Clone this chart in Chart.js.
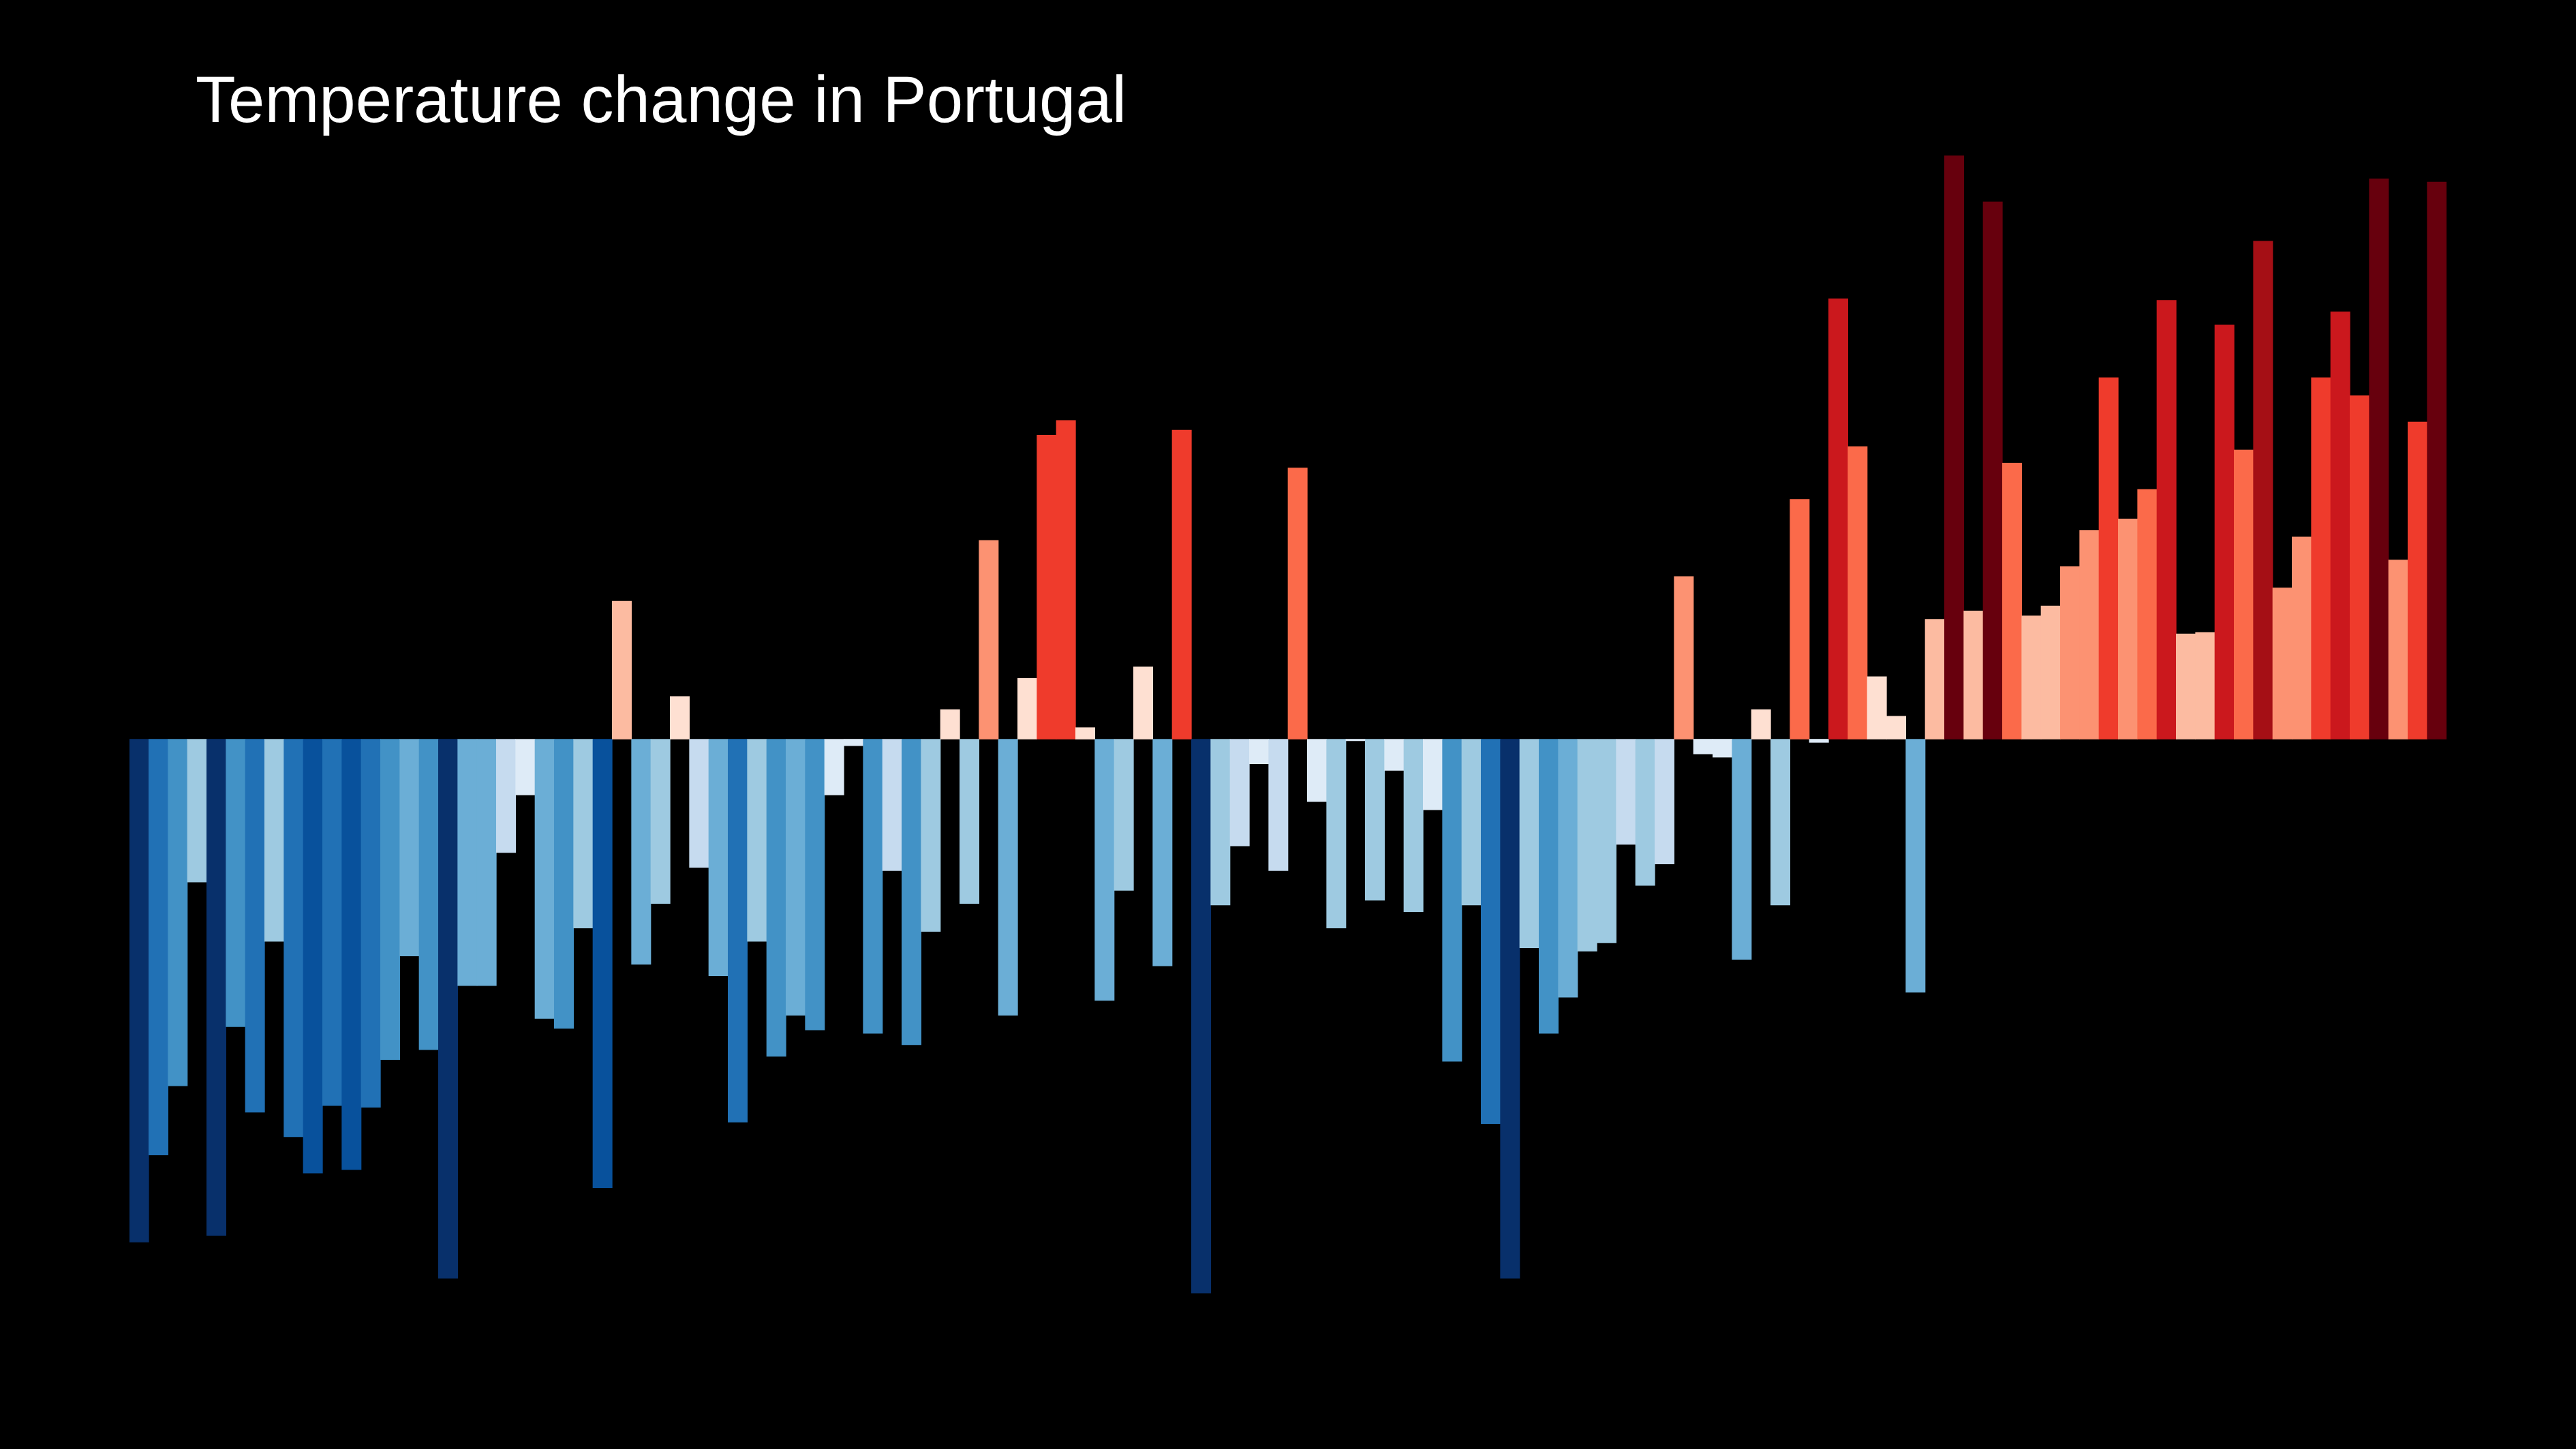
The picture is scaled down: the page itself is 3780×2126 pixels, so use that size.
<!DOCTYPE html>
<html>
<head>
<meta charset="utf-8">
<script src="https://cdn.jsdelivr.net/npm/chart.js@4"></script>
<style>
  html, body { margin: 0; padding: 0; background: #000; }
  #wrap { position: relative; width: 3780px; height: 2126px; }
  #title { position: absolute; left: 287px; top: 98px; color: #fff;
    font-family: "Liberation Sans", Arial, sans-serif; font-size: 96px; line-height: 1; }
</style>
</head>
<body>
<div id="wrap">
  <canvas id="stripes" width="3780" height="2126"></canvas>
  <div id="title">Temperature change in Portugal</div>
</div>
<script>
// years 1901-2020, anomaly values (arbitrary units)
const years = Array.from({length: 120}, (_, i) => String(1901 + i));
const anomalies = [
  -306, -253, -211, -87, -302, -175, -227, -123, -242, -264,
  -223, -262, -224, -195, -132, -189, -328, -150, -150, -69,
  -34, -170, -176, -115, -273, 84, -137, -100, 26, -78,
  -144, -233, -123, -193, -168, -177, -34, -4, -179, -80,
  -186, -117, 18, -100, 121, -168, 37, 185, 194, 7,
  -159, -92, 44, -138, 188, -337, -101, -65, -15, -80,
  165, -38, -115, -1, -98, -19, -105, -43, -196, -101,
  -234, -328, -127, -179, -157, -129, -124, -64, -89, -76,
  99, -9, -11, -134, 18, -101, 146, -2, 268, 178,
  38, 14, -154, 73, 355, 78, 327, 168, 75, 81,
  105, 127, 220, 134, 152, 267, 64, 65, 252, 176,
  303, 92, 123, 220, 260, 209, 341, 109, 193, 339
];
const blues = ['#08306b', '#08519c', '#2171b5', '#4292c6', '#6baed6', '#9ecae1', '#c6dbef', '#deebf7'];
const reds = ['#fee0d2', '#fcbba1', '#fc9272', '#fb6a4a', '#ef3b2c', '#cb181d', '#a50f15', '#67000d'];

const colorFor = (v) => {
  if (v < 0) {
    let idx = Math.floor((v + 345) / 345 * 8);
    return blues[Math.min(7, Math.max(0, idx))];
  }
  let idx = Math.floor(v / 360 * 8);
  return reds[Math.min(7, Math.max(0, idx))];
};

new Chart(document.getElementById('stripes').getContext('2d'), {
  type: 'bar',
  data: {
    labels: years,
    datasets: [{
      data: anomalies,
      backgroundColor: anomalies.map(colorFor),
      borderWidth: 0,
      barPercentage: 1,
      categoryPercentage: 1
    }]
  },
  options: {
    responsive: false,
    animation: false,
    layout: { padding: { left: 190, right: 190, top: 120, bottom: 77 } },
    plugins: { legend: { display: false }, tooltip: { enabled: false } },
    scales: {
      x: { display: false },
      y: { display: false, min: -400, max: 400 }
    }
  }
});
</script>
</body>
</html>
